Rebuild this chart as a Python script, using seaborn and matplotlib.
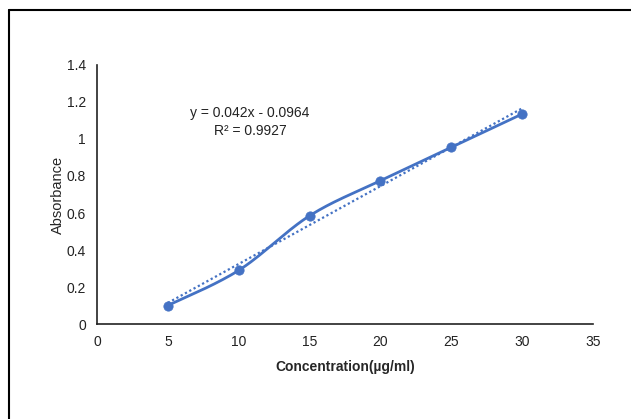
import numpy as np
import pandas as pd
import matplotlib
matplotlib.use("Agg")
import matplotlib.pyplot as plt
from matplotlib.lines import Line2D
import seaborn as sns

concentration = [5, 10, 15, 20, 25, 30]
absorbance = [0.1, 0.29, 0.585, 0.775, 0.955, 1.135]
x_ticks = [0, 5, 10, 15, 20, 25, 30, 35]
y_ticks = [0, 0.2, 0.4, 0.6, 0.8, 1.0, 1.2, 1.4]
equation = "y = 0.042x - 0.0964\nR\u00b2 = 0.9927"

BLUE = "#4472C4"


def smooth_curve(xs, ys, n=30):
    # Catmull-Rom style smoothing, similar to Excel's smoothed line
    xs = np.asarray(xs, float)
    ys = np.asarray(ys, float)
    px = np.concatenate([[xs[0]], xs, [xs[-1]]])
    py = np.concatenate([[ys[0]], ys, [ys[-1]]])
    out_x, out_y = [], []
    t = np.linspace(0, 1, n)
    for i in range(1, len(px) - 2):
        p0, p1, p2, p3 = (np.array([px[j], py[j]]) for j in (i - 1, i, i + 1, i + 2))
        c1 = p1 + (p2 - p0) / 6
        c2 = p2 - (p3 - p1) / 6
        pts = ((1 - t) ** 3)[:, None] * p1 + (3 * (1 - t) ** 2 * t)[:, None] * c1 \
            + (3 * (1 - t) * t ** 2)[:, None] * c2 + (t ** 3)[:, None] * p2
        out_x.extend(pts[:, 0])
        out_y.extend(pts[:, 1])
    return np.array(out_x), np.array(out_y)


sns.set_style("white")
plt.rcParams["font.family"] = ["Liberation Sans", "DejaVu Sans"]

df = pd.DataFrame({"Concentration": concentration, "Absorbance": absorbance})
sx, sy = smooth_curve(concentration, absorbance)
smooth_df = pd.DataFrame({"x": sx, "y": sy})

slope, intercept = np.polyfit(concentration, absorbance, 1)
trend_df = pd.DataFrame({"x": concentration,
                         "y": slope * np.array(concentration) + intercept})

fig = plt.figure(figsize=(6.31, 4.19), dpi=100)
ax = fig.add_axes([0.1537, 0.2267, 0.7861, 0.6182])

sns.lineplot(data=trend_df, x="x", y="y", ax=ax, color=BLUE, lw=1.6,
             linestyle=(0, (1, 1.2)), sort=False)
sns.lineplot(data=smooth_df, x="x", y="y", ax=ax, color=BLUE, lw=2, sort=False)
sns.scatterplot(data=df, x="Concentration", y="Absorbance", ax=ax, color=BLUE,
                s=45, edgecolor=BLUE, zorder=5)

ax.set_xlim(0, 35)
ax.set_ylim(0, 1.4)
ax.set_xticks(x_ticks)
ax.set_yticks(y_ticks)
ax.set_xticklabels([f"{v:g}" for v in x_ticks])
ax.set_yticklabels([f"{v:g}" for v in y_ticks])
ax.tick_params(length=0, labelsize=10, colors="#222222", pad=8)

for side in ["top", "right"]:
    ax.spines[side].set_visible(False)
for side in ["left", "bottom"]:
    ax.spines[side].set_color("#222222")
    ax.spines[side].set_linewidth(1.2)

ax.set_xlabel("Concentration(\u00b5g/ml)", fontsize=10, fontweight="bold", labelpad=8)
ax.set_ylabel("Absorbance", fontsize=10.5, labelpad=1)

ax.text(10.8, 1.092, equation, ha="center", va="center", fontsize=10,
        linespacing=1.4, color="#222222")

# partial frame around the chart
fig.add_artist(Line2D([9 / 631, 1.0], [1 - 10 / 419, 1 - 10 / 419],
                      transform=fig.transFigure, color="black", lw=1.5))
fig.add_artist(Line2D([9 / 631, 9 / 631], [0, 1 - 10 / 419],
                      transform=fig.transFigure, color="black", lw=1.5))

fig.savefig("out.png", dpi=100)
